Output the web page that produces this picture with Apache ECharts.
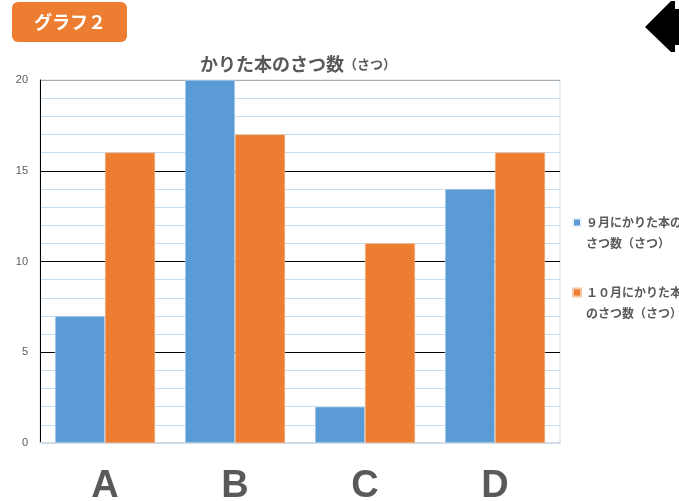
<!DOCTYPE html>
<html>
<head>
<meta charset="utf-8">
<script src="https://cdn.jsdelivr.net/npm/echarts@6/dist/echarts.min.js"></script>
<style>
  html, body { margin: 0; padding: 0; background: #fff; }
  #chart { width: 679px; height: 501px; }
</style>
</head>
<body>
<div id="chart"></div>
<script>
// Books borrowed per class (number of books)
const categories = ['A', 'B', 'C', 'D'];
const septemberBooks = [7, 20, 2, 14];
const octoberBooks = [16, 17, 11, 16];
const seriesNames = ['９月にかりた本の\nさつ数（さつ）', '１０月にかりた本\nのさつ数（さつ）'];
const yTicks = [0, 5, 10, 15, 20];

const jp = '"Noto Sans CJK JP", "Noto Sans", sans-serif';
const textGray = '#595959';

// Legend marker: an 8px square beside the first text line; the trailing
// move-to only stretches the icon's box down to the second line.
const legendIcon = 'path://M0,0h8v8h-8z M0,29';

const chart = echarts.init(document.getElementById('chart'));
chart.setOption({
  animation: false,
  backgroundColor: '#fff',
  title: {
    text: '{main|かりた本のさつ数}{unit|（さつ）}',
    left: 293,
    textAlign: 'center',
    top: 50,
    textStyle: {
      rich: {
        main: { fontFamily: jp, fontWeight: 'bold', fontSize: 18, color: textGray },
        unit: { fontFamily: jp, fontWeight: 'bold', fontSize: 13, color: textGray }
      }
    }
  },
  legend: {
    orient: 'vertical',
    left: 567,
    top: 207,
    itemWidth: 8,
    itemHeight: 29,
    itemGap: 28,
    icon: legendIcon,
    textStyle: {
      fontFamily: jp,
      fontWeight: 'bold',
      fontSize: 12,
      color: textGray,
      lineHeight: 21
    },
    data: seriesNames
  },
  grid: {
    left: 40,
    right: 119,
    top: 80,
    bottom: 58,
    outerBoundsMode: 'none',
    containLabel: false,
    show: true,
    borderColor: '#c9dcee',
    borderWidth: 1
  },
  xAxis: {
    type: 'category',
    data: categories,
    axisTick: { show: false },
    axisLine: { lineStyle: { color: '#cfdbe6', width: 2 } },
    axisLabel: {
      margin: 25,
      fontFamily: '"Liberation Sans", "DejaVu Sans", sans-serif',
      fontWeight: 'bold',
      fontSize: 38,
      color: textGray
    }
  },
  yAxis: {
    type: 'value',
    min: yTicks[0],
    max: yTicks[yTicks.length - 1],
    interval: 5,
    axisLine: { show: true, lineStyle: { color: '#000', width: 1 } },
    axisTick: { show: false },
    axisLabel: {
      margin: 12,
      fontFamily: '"Liberation Sans", sans-serif',
      fontSize: 11,
      color: textGray
    },
    splitLine: {
      show: true,
      lineStyle: { color: ['#cfdbe6', '#000', '#000', '#000', '#a3acb5'], width: 1 }
    },
    minorTick: { show: false, splitNumber: 5 },
    minorSplitLine: {
      show: true,
      lineStyle: { color: '#c6dcef', width: 1 }
    }
  },
  series: [
    {
      name: seriesNames[0],
      type: 'bar',
      data: septemberBooks,
      barGap: '0%',
      barCategoryGap: '23%',
      itemStyle: { color: '#5B9BD5', borderColor: '#eaf2fa', borderWidth: 0.5 }
    },
    {
      name: seriesNames[1],
      type: 'bar',
      data: octoberBooks,
      itemStyle: { color: '#ED7D31', borderColor: '#f7c7a6', borderWidth: 0.5 }
    }
  ],
  graphic: [
    {
      type: 'rect',
      shape: { x: 12, y: 2, width: 115, height: 40, r: 6 },
      style: { fill: '#ED7D31' }
    },
    {
      type: 'text',
      x: 70,
      y: 22,
      style: {
        text: 'グラフ２',
        fill: '#fff',
        font: 'bold 18px "Noto Sans CJK JP", sans-serif',
        align: 'center',
        verticalAlign: 'middle'
      }
    },
    {
      type: 'polygon',
      shape: {
        points: [[645, 27], [671, 1], [675, 1], [675, 9], [679, 9], [679, 45], [675, 45], [675, 52], [671, 52]]
      },
      style: { fill: '#000' }
    }
  ]
});
</script>
</body>
</html>
